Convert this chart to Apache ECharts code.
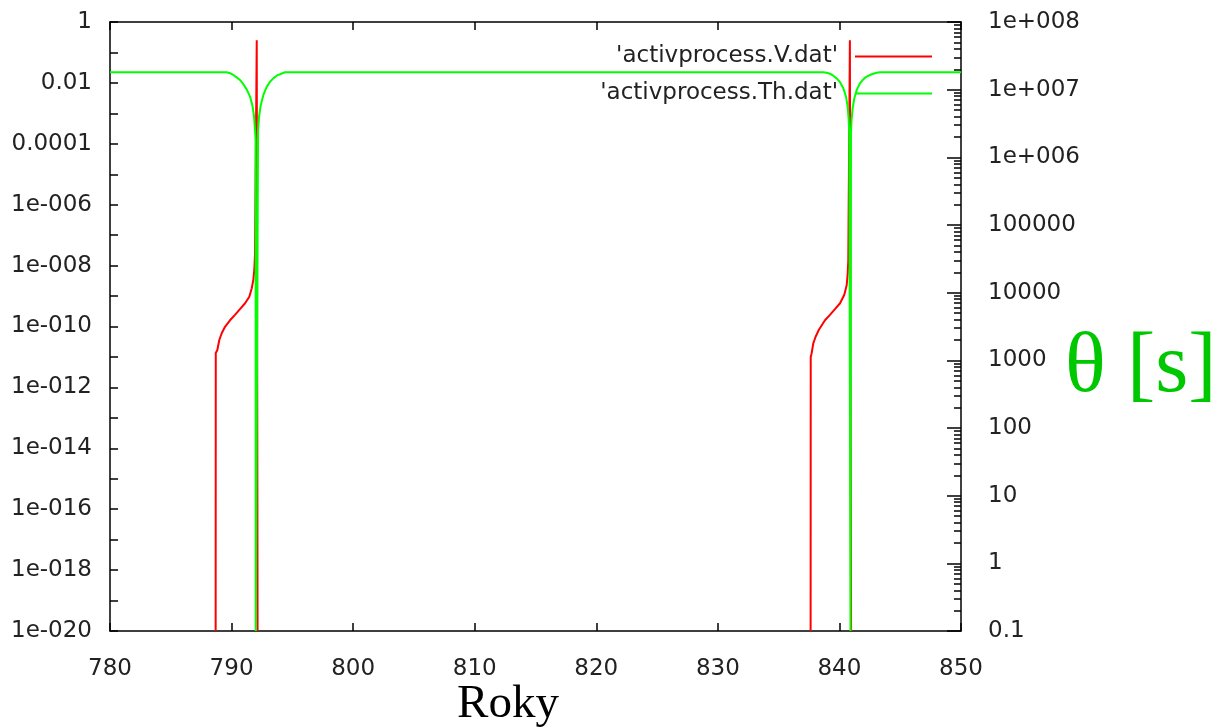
<!DOCTYPE html>
<html>
<head>
<meta charset="utf-8">
<title>activprocess</title>
<script src="https://cdn.jsdelivr.net/npm/echarts@6.0.0/dist/echarts.min.js"></script>
<style>
  html, body { margin: 0; padding: 0; background: #fff; }
  #chart { width: 1212px; height: 728px; }
</style>
</head>
<body>
<div id="chart"></div>
<script>
  // 'activprocess.V.dat' - left log axis (years, value)
  var vYears = [
    788.69, 788.70, 788.83, 788.99, 789.19, 789.46, 789.87, 790.28, 790.69, 791.11,
    791.46, 791.66, 791.79, 791.87, 791.93, 792.07, 792.14,
    null,
    837.63, 837.64, 837.71, 837.85, 838.04, 838.31, 838.81, 839.22, 839.63, 840.05,
    840.40, 840.60, 840.68, 840.73, 840.86, 840.96
  ]
  var vValues = [
    1e-20, 1.35e-11, 1.7e-11, 3.6e-11, 6.0e-11, 9.8e-11, 1.6e-10, 2.4e-10, 3.7e-10, 5.8e-10,
    9.5e-10, 1.8e-9, 3.4e-9, 7.2e-9, 2.5e-8, 0.25, 1e-20,
    null,
    1e-20, 1.0e-11, 1.3e-11, 2.8e-11, 4.6e-11, 7.8e-11, 1.6e-10, 2.4e-10, 3.7e-10, 5.8e-10,
    1.1e-9, 2.3e-9, 5.6e-9, 1.5e-8, 0.25, 1e-20
  ]

  // 'activprocess.Th.dat' - right log axis, theta [s]
  var thYears = [
    780, 789.60, 789.87, 790.14, 790.42, 790.69, 790.96, 791.24, 791.52, 791.71, 791.85, 791.93, 791.98,
    791.99, 792.01,
    792.18, 792.26, 792.40, 792.61, 792.89, 793.16, 793.43, 793.71, 794.39,
    838.67, 838.95, 839.22, 839.49, 839.77, 840.05, 840.32, 840.54, 840.68, 840.76, 840.81,
    840.91, 840.93,
    840.95, 841.00, 841.09, 841.22, 841.42, 841.69, 841.96, 842.24, 842.65, 843.06, 843.33, 850
  ]
  var thValues = [
    1.81e7, 1.81e7, 1.75e7, 1.65e7, 1.52e7, 1.39e7, 1.21e7, 1.01e7, 7.9e6, 5.9e6, 4.0e6, 2.5e6, 1.8e6,
    0.1, 0.1,
    2.5e6, 4.0e6, 5.9e6, 8.3e6, 1.1e7, 1.31e7, 1.47e7, 1.61e7, 1.81e7,
    1.81e7, 1.78e7, 1.72e7, 1.61e7, 1.47e7, 1.29e7, 1.05e7, 7.9e6, 5.6e6, 3.6e6, 2.3e6,
    0.1, 0.1,
    2.3e6, 3.6e6, 5.3e6, 7.4e6, 9.9e6, 1.24e7, 1.42e7, 1.56e7, 1.69e7, 1.78e7, 1.81e7, 1.81e7
  ]

  var rightMinorTicks = []
  for (var e = -1; e < 8; e++) {
    for (var m = 2; m <= 9; m++) rightMinorTicks.push(m * Math.pow(10, e))
  }

  function pairs (xs, ys) {
    return xs.map(function (x, i) { return x === null ? [null, null] : [x, ys[i]] })
  }

  function leftLabel (v) {
    var e = Math.round(Math.log10(v))
    if (e % 2 !== 0) return ''
    if (e === 0) return '1'
    if (e === -2) return '0.01'
    if (e === -4) return '0.0001'
    return '1e-' + String(-e).padStart(3, '0')
  }

  function rightLabel (v) {
    var e = Math.round(Math.log10(v))
    if (e === -1) return '0.1'
    if (e <= 5) return String(Math.pow(10, e))
    return '1e+' + String(e).padStart(3, '0')
  }

  var tickFont = { fontFamily: 'DejaVu Sans', fontSize: 23, color: '#222' }
  var black = { color: '#000', width: 1.5 }

  var chart = echarts.init(document.getElementById('chart'))
  var options = {
    animation: false,
    backgroundColor: '#fff',
    grid: { left: 110, right: 251, top: 22, bottom: 97, outerBoundsMode: 'none', containLabel: false },
    legend: {
      orient: 'vertical',
      right: 275,
      top: 40,
      align: 'right',
      icon: 'rect',
      itemWidth: 77,
      itemHeight: 2,
      itemGap: 14,
      selectedMode: false,
      textStyle: { fontFamily: 'DejaVu Sans', fontSize: 23, color: '#222', padding: [0, 12, 0, 0] },
      data: ["'activprocess.V.dat'", "'activprocess.Th.dat'"]
    },
    xAxis: [{
      type: 'value',
      min: 780,
      max: 850,
      interval: 10,
      name: 'Roky',
      nameLocation: 'middle',
      nameGap: 50,
      nameMoveOverlap: false,
      nameTextStyle: { fontFamily: 'Liberation Serif', fontSize: 47, color: '#000', padding: [0, 55, 0, 0] },
      axisLine: { lineStyle: black },
      axisTick: { inside: true, length: 8, lineStyle: black },
      axisLabel: Object.assign({ margin: 27 }, tickFont),
      splitLine: { show: false }
    }, {
      type: 'value',
      position: 'top',
      min: 780,
      max: 850,
      interval: 10,
      axisLine: { lineStyle: black },
      axisTick: { inside: true, length: 8, lineStyle: black },
      axisLabel: { show: false },
      splitLine: { show: false }
    }],
    yAxis: [{
      type: 'log',
      logBase: 10,
      min: 1e-20,
      max: 1,
      interval: 1,
      position: 'left',
      axisLine: { show: true, lineStyle: black },
      axisTick: { show: true, inside: true, length: 8, lineStyle: black },
      axisLabel: Object.assign({ margin: 18, formatter: leftLabel }, tickFont),
      splitLine: { show: false }
    }, {
      type: 'log',
      logBase: 10,
      min: 0.1,
      max: 1e8,
      interval: 1,
      position: 'right',
      name: 'θ [s]',
      nameLocation: 'middle',
      nameRotate: 0,
      nameGap: 104,
      nameMoveOverlap: false,
      nameTextStyle: { fontFamily: 'Liberation Serif', fontSize: 85, color: '#00c800', verticalAlign: 'top', align: 'left' },
      axisLine: { show: true, lineStyle: black },
      axisTick: { show: true, inside: true, length: 14, lineStyle: black },
      axisLabel: Object.assign({ margin: 27, formatter: rightLabel }, tickFont),
      splitLine: { show: false }
    }, {
      type: 'log',
      logBase: 10,
      min: 0.1,
      max: 1e8,
      position: 'right',
      axisLine: { show: false },
      axisTick: { show: true, inside: true, length: 7, lineStyle: black, customValues: rightMinorTicks },
      axisLabel: { show: false },
      splitLine: { show: false }
    }],
    series: [{
      name: "'activprocess.V.dat'",
      type: 'line',
      xAxisIndex: 0,
      yAxisIndex: 0,
      data: pairs(vYears, vValues),
      showSymbol: false,
      connectNulls: false,
      clip: true,
      color: '#ff0000',
      lineStyle: { color: '#ff0000', width: 2 }
    }, {
      name: "'activprocess.Th.dat'",
      type: 'line',
      xAxisIndex: 0,
      yAxisIndex: 1,
      data: pairs(thYears, thValues),
      showSymbol: false,
      clip: true,
      color: '#00ff00',
      lineStyle: { color: '#00ff00', width: 2 }
    }]
  }
  chart.setOption(options)
</script>
</body>
</html>
